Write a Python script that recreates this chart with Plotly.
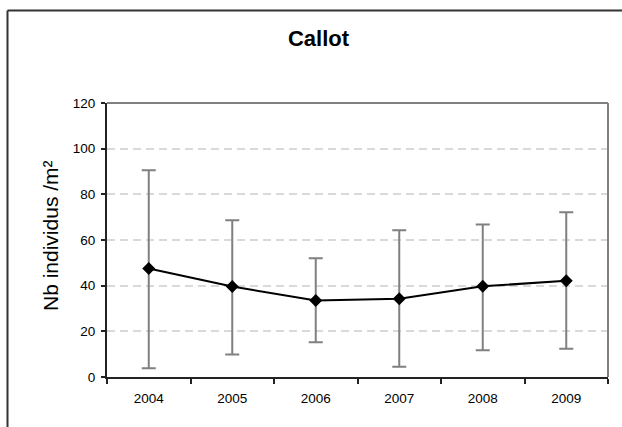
import plotly.graph_objects as go

years = ["2004", "2005", "2006", "2007", "2008", "2009"]
mean_density = [47.5, 39.6, 33.5, 34.3, 39.7, 42.2]
err_plus = [43.1, 29.1, 18.5, 30.0, 27.1, 30.0]
err_minus = [43.7, 29.8, 18.3, 29.8, 28.0, 29.8]

W, H = 622, 427
L, R, T, B = 107, 14, 103, 50
PW, PH = W - L - R, H - T - B

_FONT = "Arial, Liberation Sans, sans-serif"
_GRAY = "#808080"


def px_x(p):
    return (p - L) / PW


def px_y(p):
    return (H - B - p) / PH


fig = go.Figure(go.Scatter(
    x=years, y=mean_density, mode="lines+markers",
    line=dict(color="black", width=2),
    marker=dict(symbol="diamond", size=10, color="black"),
    error_y=dict(type="data", array=err_plus, arrayminus=err_minus,
                 color=_GRAY, thickness=2, width=7),
))

fig.update_layout(
    width=W, height=H,
    paper_bgcolor="white", plot_bgcolor="white",
    margin=dict(l=L, r=R, t=T, b=B),
    font=dict(family=_FONT, color="black", size=13.5),
    showlegend=False,
    title=dict(text="<b>Callot</b>", x=318.5 / W, y=1 - 38 / H,
               xanchor="center", yanchor="middle",
               font=dict(family=_FONT, size=22, color="black")),
    xaxis=dict(type="category", tickson="boundaries", ticks="outside",
               ticklen=5, tickcolor="#222", tickwidth=1.5, ticklabelstandoff=8,
               showline=True, linecolor="#222", linewidth=2,
               showgrid=False, zeroline=False, range=[-0.5, 5.5]),
    yaxis=dict(range=[0, 120], dtick=20, ticks="outside", ticklen=4,
               tickcolor="#222", tickwidth=1.5, ticklabelstandoff=3,
               showline=True, linecolor="#222", linewidth=2,
               showgrid=True, gridcolor="#d9d9d9", gridwidth=1.5,
               griddash="8px,5px", zeroline=False),
    annotations=[dict(text="Nb individus /m²", textangle=-90,
                      xref="paper", yref="paper",
                      x=px_x(50), y=px_y(236), xanchor="center", yanchor="middle",
                      showarrow=False, font=dict(family=_FONT, size=21, color="black"))],
    shapes=[
        # plot area border (top and right)
        dict(type="line", xref="paper", yref="paper", x0=0, x1=1, y0=1, y1=1,
             line=dict(color=_GRAY, width=2)),
        dict(type="line", xref="paper", yref="paper", x0=1, x1=1, y0=0, y1=1,
             line=dict(color=_GRAY, width=2)),
        # outer chart frame
        dict(type="line", xref="paper", yref="paper",
             x0=px_x(7.5), x1=px_x(W + 5), y0=px_y(10.5), y1=px_y(10.5),
             line=dict(color="#333333", width=2)),
        dict(type="line", xref="paper", yref="paper",
             x0=px_x(7.5), x1=px_x(7.5), y0=px_y(10.5), y1=px_y(H + 5),
             line=dict(color="#333333", width=2)),
    ],
)

# page body has a default 8px margin; drop it so the figure sits at 0,0
fig.write_html("out.html", config={"displayModeBar": False},
               post_script="document.body.style.margin='0';"
                           "document.body.style.overflow='hidden';")
